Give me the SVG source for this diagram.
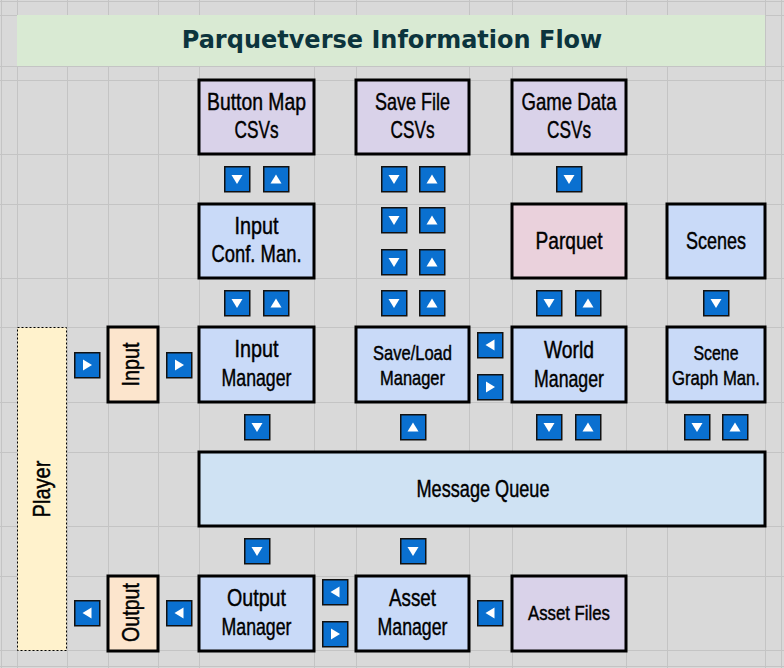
<svg xmlns="http://www.w3.org/2000/svg" xmlns:xlink="http://www.w3.org/1999/xlink" width="784" height="668" viewBox="0 0 784 668">
<style>
.grid line{stroke:#c4c4c4;stroke-width:1}
.box{stroke:#000;stroke-width:3}
.lav{fill:#d9d2e9}
.blue{fill:#c9daf8}
.pink{fill:#ead1dc}
.peach{fill:#fce5cd}
.mq{fill:#cfe2f3}
.t{font-family:"Liberation Sans",Arial,sans-serif;font-size:24.5px;fill:#000;stroke:#000;stroke-width:0.45;text-anchor:middle}
.s{font-size:21px}
.title{font-family:"DejaVu Sans",Verdana,sans-serif;font-weight:bold;font-size:24px;fill:#0c343d;text-anchor:middle}
.ic{fill:#0a70d0;stroke:#111;stroke-width:1.5}
.tri{fill:#fff}
</style>
<defs>
<g id="aD"><rect class="ic" x="0.75" y="0.75" width="25" height="25"/><polygon class="tri" points="7.5,9 18.5,9 13,18"/></g>
<g id="aU"><rect class="ic" x="0.75" y="0.75" width="25" height="25"/><polygon class="tri" points="7.5,17.5 18.5,17.5 13,8.5"/></g>
<g id="aL"><rect class="ic" x="0.75" y="0.75" width="25" height="25"/><polygon class="tri" points="17.5,7.5 17.5,18.5 8.5,13"/></g>
<g id="aR"><rect class="ic" x="0.75" y="0.75" width="25" height="25"/><polygon class="tri" points="9,7.5 9,18.5 18,13"/></g>
</defs>
<rect x="0" y="0" width="784" height="668" fill="#d9d9d9"/>
<g class="grid">
<line x1="1.5" y1="0" x2="1.5" y2="668"/>
<line x1="17.5" y1="0" x2="17.5" y2="668"/>
<line x1="67.5" y1="0" x2="67.5" y2="668"/>
<line x1="108.5" y1="0" x2="108.5" y2="668"/>
<line x1="158.5" y1="0" x2="158.5" y2="668"/>
<line x1="199.5" y1="0" x2="199.5" y2="668"/>
<line x1="314.5" y1="0" x2="314.5" y2="668"/>
<line x1="356.5" y1="0" x2="356.5" y2="668"/>
<line x1="469.5" y1="0" x2="469.5" y2="668"/>
<line x1="512.5" y1="0" x2="512.5" y2="668"/>
<line x1="626.5" y1="0" x2="626.5" y2="668"/>
<line x1="667.5" y1="0" x2="667.5" y2="668"/>
<line x1="765.5" y1="0" x2="765.5" y2="668"/>
<line x1="781.5" y1="0" x2="781.5" y2="668"/>
<line x1="0" y1="1.5" x2="784" y2="1.5"/>
<line x1="0" y1="15.5" x2="784" y2="15.5"/>
<line x1="0" y1="66.5" x2="784" y2="66.5"/>
<line x1="0" y1="80.5" x2="784" y2="80.5"/>
<line x1="0" y1="154.5" x2="784" y2="154.5"/>
<line x1="0" y1="204.5" x2="784" y2="204.5"/>
<line x1="0" y1="278.5" x2="784" y2="278.5"/>
<line x1="0" y1="327.5" x2="784" y2="327.5"/>
<line x1="0" y1="402.5" x2="784" y2="402.5"/>
<line x1="0" y1="452.5" x2="784" y2="452.5"/>
<line x1="0" y1="526.5" x2="784" y2="526.5"/>
<line x1="0" y1="576.5" x2="784" y2="576.5"/>
<line x1="0" y1="650.5" x2="784" y2="650.5"/>
<line x1="0" y1="666.5" x2="784" y2="666.5"/>
</g>
<g id="title">
<rect x="17" y="15" width="748" height="51" fill="#d9ead3"/>
<text class="title" x="392" y="48">Parquetverse Information Flow</text>
</g>
<g id="player">
<rect x="17.5" y="327.5" width="49" height="323" fill="#fff2cc" stroke="#000" stroke-width="1" stroke-dasharray="2,2"/>
<text class="t" transform="translate(50,489) rotate(-90)" textLength="57" lengthAdjust="spacingAndGlyphs">Player</text>
</g>
<g id="input">
<rect class="box peach" x="108" y="327" width="50" height="75"/>
<text class="t" transform="translate(139,364.5) rotate(-90)" textLength="44" lengthAdjust="spacingAndGlyphs">Input</text>
</g>
<g id="output">
<rect class="box peach" x="108" y="576" width="50" height="75"/>
<text class="t" transform="translate(139,612.5) rotate(-90)" textLength="59" lengthAdjust="spacingAndGlyphs">Output</text>
</g>
<g id="button-map-csvs">
<rect class="box lav" x="199" y="80" width="115" height="74"/>
<text class="t" x="256.5" y="110" textLength="99" lengthAdjust="spacingAndGlyphs">Button Map</text>
<text class="t" x="256.5" y="138" textLength="44" lengthAdjust="spacingAndGlyphs">CSVs</text>
</g>
<g id="save-file-csvs">
<rect class="box lav" x="356" y="80" width="113" height="74"/>
<text class="t" x="412.5" y="110" textLength="75" lengthAdjust="spacingAndGlyphs">Save File</text>
<text class="t" x="412.5" y="138" textLength="44" lengthAdjust="spacingAndGlyphs">CSVs</text>
</g>
<g id="game-data-csvs">
<rect class="box lav" x="512" y="80" width="114" height="74"/>
<text class="t" x="569" y="110" textLength="95" lengthAdjust="spacingAndGlyphs">Game Data</text>
<text class="t" x="569" y="138" textLength="44" lengthAdjust="spacingAndGlyphs">CSVs</text>
</g>
<g id="input-conf-man">
<rect class="box blue" x="199" y="204" width="115" height="74"/>
<text class="t" x="256.5" y="234" textLength="44" lengthAdjust="spacingAndGlyphs">Input</text>
<text class="t" x="256.5" y="262" textLength="90" lengthAdjust="spacingAndGlyphs">Conf. Man.</text>
</g>
<g id="parquet">
<rect class="box pink" x="512" y="204" width="114" height="74"/>
<text class="t" x="569" y="249" textLength="67" lengthAdjust="spacingAndGlyphs">Parquet</text>
</g>
<g id="scenes">
<rect class="box blue" x="667" y="204" width="98" height="74"/>
<text class="t" x="716" y="249" textLength="60" lengthAdjust="spacingAndGlyphs">Scenes</text>
</g>
<g id="input-manager">
<rect class="box blue" x="199" y="327" width="115" height="75"/>
<text class="t" x="256.5" y="357" textLength="44" lengthAdjust="spacingAndGlyphs">Input</text>
<text class="t" x="256.5" y="386" textLength="70" lengthAdjust="spacingAndGlyphs">Manager</text>
</g>
<g id="save-load-manager">
<rect class="box blue" x="356" y="327" width="113" height="75"/>
<text class="t s" x="412.5" y="360" textLength="79" lengthAdjust="spacingAndGlyphs">Save/Load</text>
<text class="t s" x="412.5" y="385" textLength="65" lengthAdjust="spacingAndGlyphs">Manager</text>
</g>
<g id="world-manager">
<rect class="box blue" x="512" y="327" width="114" height="75"/>
<text class="t" x="569" y="358" textLength="50" lengthAdjust="spacingAndGlyphs">World</text>
<text class="t" x="569" y="387" textLength="70" lengthAdjust="spacingAndGlyphs">Manager</text>
</g>
<g id="scene-graph-man">
<rect class="box blue" x="667" y="327" width="98" height="75"/>
<text class="t s" x="716" y="360" textLength="45" lengthAdjust="spacingAndGlyphs">Scene</text>
<text class="t s" x="716" y="385" textLength="88" lengthAdjust="spacingAndGlyphs">Graph Man.</text>
</g>
<g id="message-queue">
<rect class="box mq" x="199" y="452" width="566" height="74"/>
<text class="t" x="483" y="497" textLength="133" lengthAdjust="spacingAndGlyphs">Message Queue</text>
</g>
<g id="output-manager">
<rect class="box blue" x="199" y="576" width="115" height="75"/>
<text class="t" x="256.5" y="606" textLength="59" lengthAdjust="spacingAndGlyphs">Output</text>
<text class="t" x="256.5" y="635" textLength="70" lengthAdjust="spacingAndGlyphs">Manager</text>
</g>
<g id="asset-manager">
<rect class="box blue" x="356" y="576" width="113" height="75"/>
<text class="t" x="412.5" y="606" textLength="47" lengthAdjust="spacingAndGlyphs">Asset</text>
<text class="t" x="412.5" y="635" textLength="70" lengthAdjust="spacingAndGlyphs">Manager</text>
</g>
<g id="asset-files">
<rect class="box lav" x="512" y="576" width="114" height="75"/>
<text class="t s" x="569" y="620" textLength="82" lengthAdjust="spacingAndGlyphs">Asset Files</text>
</g>
<g id="connectors">
<use href="#aD" x="224" y="166"/><use href="#aU" x="263" y="166"/>
<use href="#aD" x="381" y="166"/><use href="#aU" x="419" y="166"/>
<use href="#aD" x="556" y="166"/>
<use href="#aD" x="381" y="207"/><use href="#aU" x="419" y="207"/>
<use href="#aD" x="381" y="249"/><use href="#aU" x="419" y="249"/>
<use href="#aD" x="224" y="290"/><use href="#aU" x="263" y="290"/>
<use href="#aD" x="381" y="290"/><use href="#aU" x="419" y="290"/>
<use href="#aD" x="536" y="290"/><use href="#aU" x="575" y="290"/>
<use href="#aD" x="703" y="290"/>
<use href="#aR" x="74" y="352"/><use href="#aR" x="166" y="352"/>
<use href="#aL" x="477" y="332"/><use href="#aR" x="477" y="374"/>
<use href="#aD" x="244" y="414"/>
<use href="#aU" x="400" y="414"/>
<use href="#aD" x="536" y="414"/><use href="#aU" x="575" y="414"/>
<use href="#aD" x="684" y="414"/><use href="#aU" x="722" y="414"/>
<use href="#aD" x="244" y="538"/>
<use href="#aD" x="400" y="538"/>
<use href="#aL" x="74" y="600"/><use href="#aL" x="166" y="600"/>
<use href="#aL" x="322" y="579"/><use href="#aR" x="322" y="621"/>
<use href="#aL" x="477" y="600"/>
</g>
</svg>
